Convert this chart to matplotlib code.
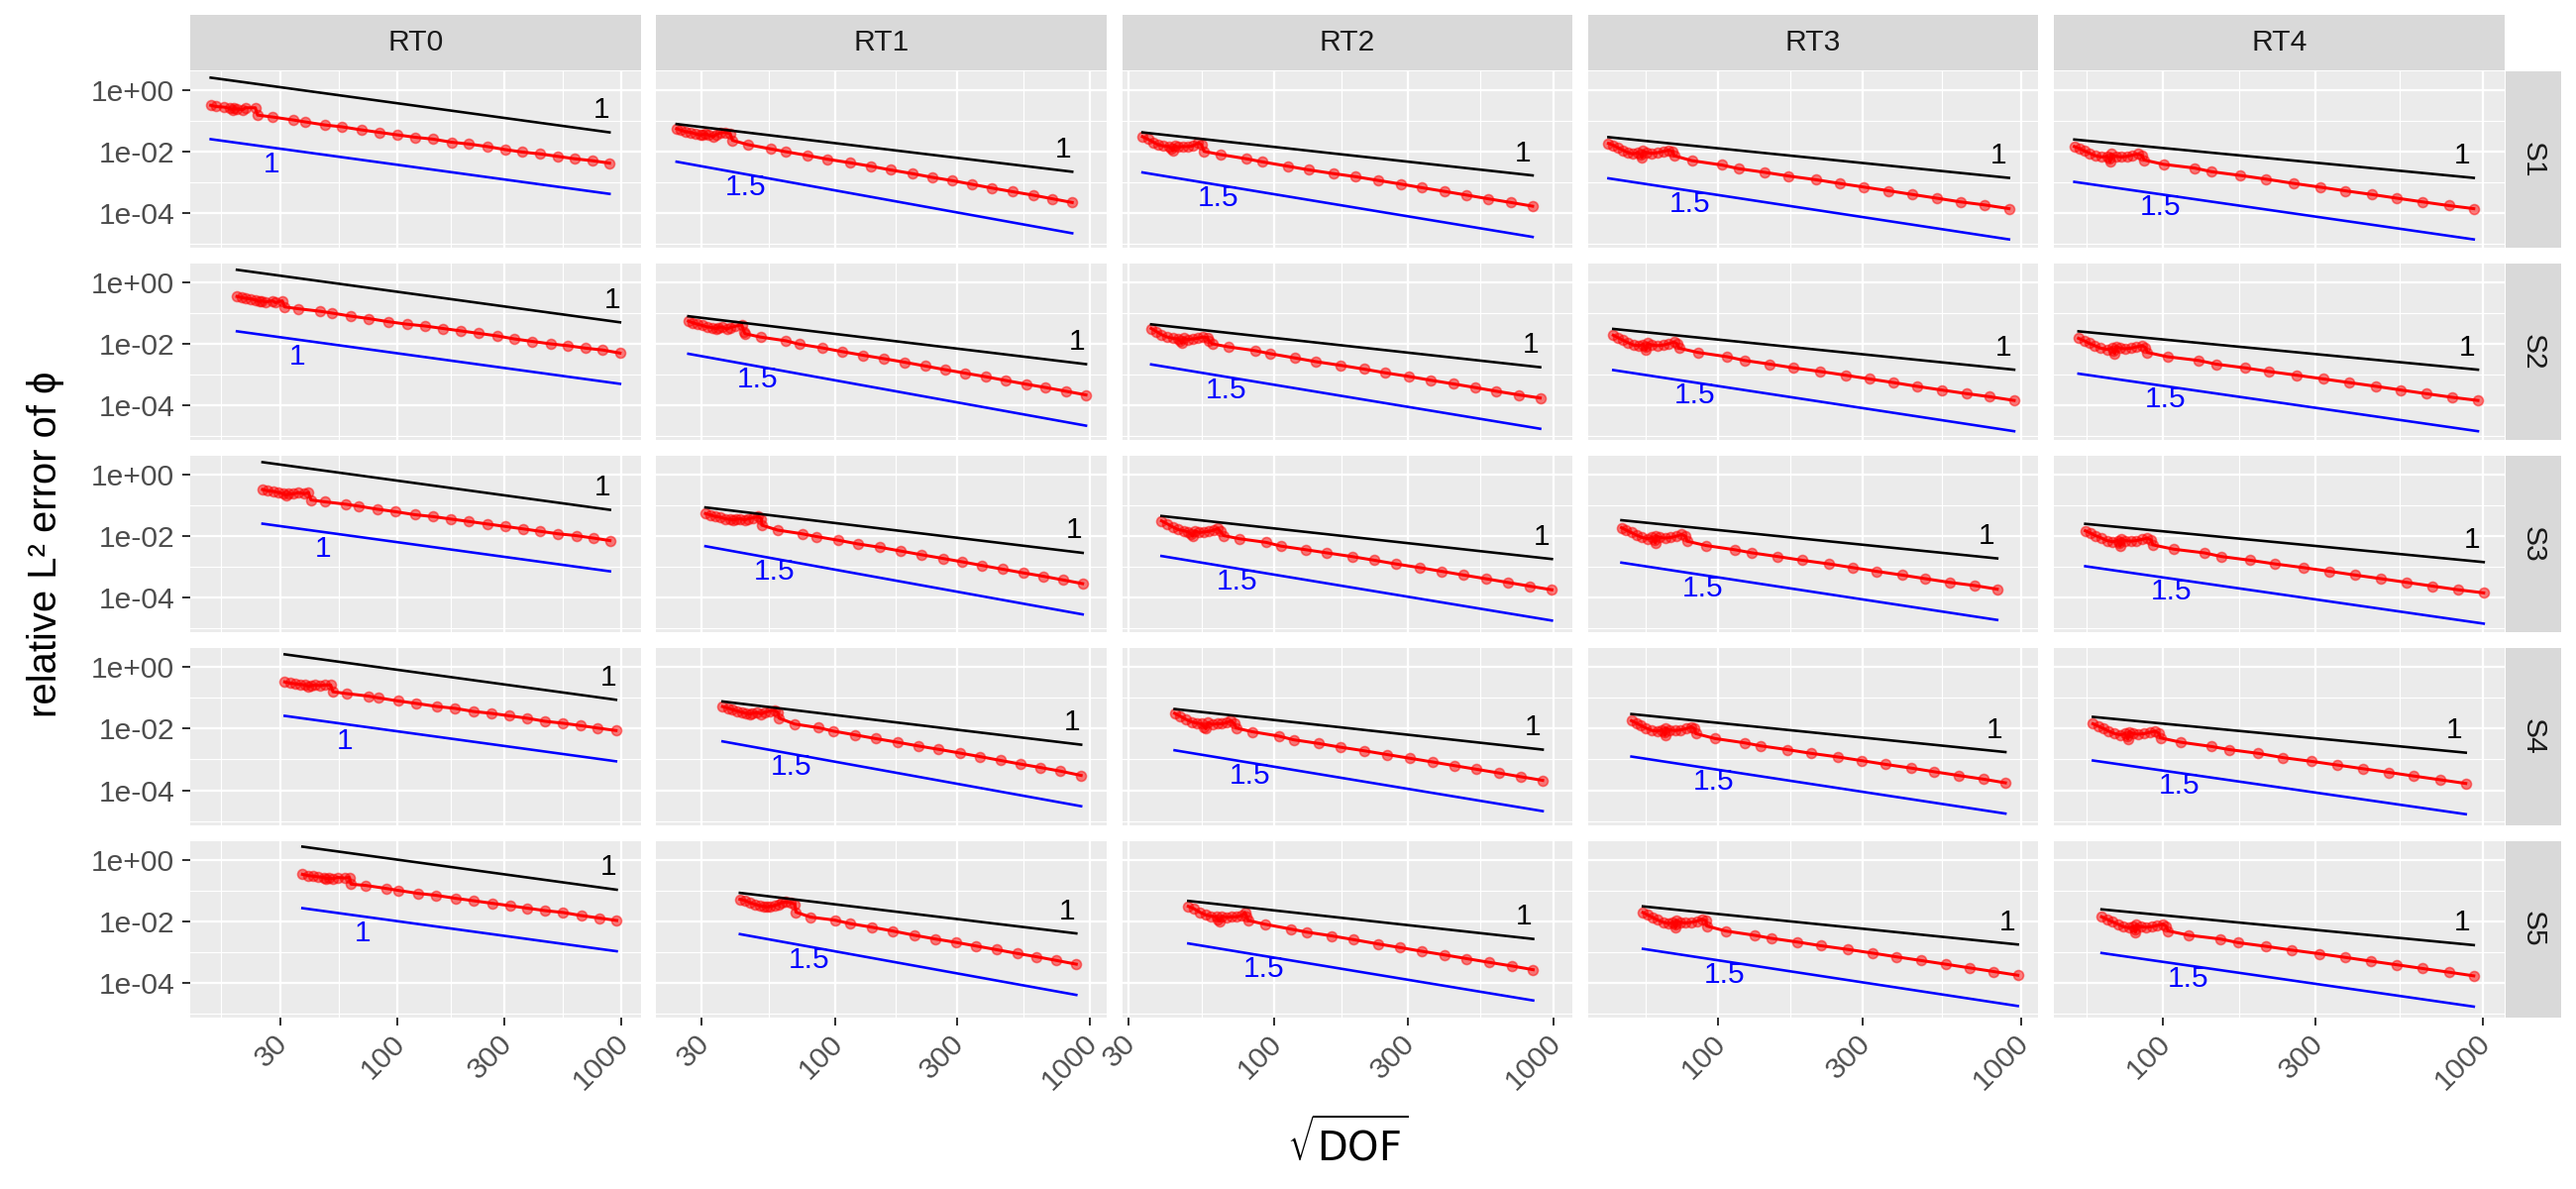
import numpy as np
import matplotlib
matplotlib.use("Agg")
import matplotlib.pyplot as plt
from matplotlib.ticker import FixedLocator, FixedFormatter, NullFormatter
from matplotlib.transforms import ScaledTranslation

plt.rcParams['font.family'] = ['Liberation Sans', 'DejaVu Sans']
plt.rcParams['mathtext.fontset'] = 'dejavusans'

# ---------------- data ----------------
methods = ['RT0', 'RT1', 'RT2', 'RT3', 'RT4']
schemes = ['S1', 'S2', 'S3', 'S4', 'S5']
rates = [1, 1.5, 1.5, 1.5, 1.5]
x_breaks = [30, 100, 300, 1000]
x_tick_labels = ['30', '100', '300', '1000']
y_breaks = [1e0, 1e-2, 1e-4]
y_tick_labels = ['1e+00', '1e-02', '1e-04']

# log10(sqrt(DOF)) and log10(relative L2 error)
LX_RT0_S1 = [1.168,1.191,1.228,1.253,1.265,1.272,1.283,1.311,1.323,1.367,1.377,1.443,1.538,1.589,1.677,1.753,1.840,1.919,1.998,2.080,2.159,2.241,2.320,2.400,2.481,2.557,2.636,2.714,2.792,2.868,2.946]
LY_RT0_S1 = [-0.50,-0.54,-0.56,-0.60,-0.64,-0.60,-0.62,-0.64,-0.58,-0.58,-0.82,-0.88,-0.98,-1.04,-1.14,-1.20,-1.30,-1.38,-1.46,-1.54,-1.60,-1.70,-1.76,-1.84,-1.94,-2.02,-2.08,-2.16,-2.24,-2.30,-2.38]
LX_RT0_S2 = [1.285,1.308,1.326,1.348,1.369,1.384,1.396,1.413,1.443,1.457,1.487,1.498,1.560,1.655,1.709,1.794,1.874,1.960,2.042,2.123,2.203,2.284,2.364,2.444,2.522,2.602,2.683,2.760,2.839,2.915,2.993]
LY_RT0_S2 = [-0.46,-0.50,-0.52,-0.54,-0.58,-0.62,-0.60,-0.64,-0.60,-0.66,-0.60,-0.80,-0.86,-0.94,-1.00,-1.10,-1.18,-1.28,-1.36,-1.42,-1.50,-1.58,-1.66,-1.74,-1.84,-1.92,-2.00,-2.06,-2.14,-2.20,-2.30]
LX_RT0_S3 = [1.399,1.421,1.446,1.472,1.494,1.504,1.516,1.538,1.560,1.586,1.604,1.615,1.677,1.772,1.827,1.911,1.991,2.079,2.159,2.239,2.320,2.400,2.481,2.561,2.638,2.717,2.798,2.875,2.948]
LY_RT0_S3 = [-0.48,-0.52,-0.54,-0.58,-0.62,-0.66,-0.62,-0.62,-0.58,-0.62,-0.58,-0.82,-0.88,-0.96,-1.02,-1.12,-1.20,-1.30,-1.36,-1.44,-1.52,-1.60,-1.68,-1.76,-1.84,-1.92,-1.98,-2.06,-2.14]
LX_RT0_S4 = [1.498,1.523,1.545,1.567,1.589,1.604,1.615,1.633,1.655,1.677,1.703,1.713,1.776,1.870,1.918,2.006,2.086,2.178,2.258,2.339,2.418,2.498,2.579,2.659,2.736,2.817,2.894,2.975]
LY_RT0_S4 = [-0.48,-0.52,-0.54,-0.56,-0.58,-0.62,-0.60,-0.58,-0.60,-0.58,-0.58,-0.80,-0.86,-0.94,-1.00,-1.10,-1.18,-1.28,-1.34,-1.44,-1.50,-1.58,-1.66,-1.76,-1.82,-1.90,-1.98,-2.06]
LX_RT0_S5 = [1.577,1.603,1.625,1.647,1.672,1.684,1.694,1.713,1.735,1.764,1.786,1.794,1.859,1.952,2.003,2.093,2.171,2.261,2.342,2.422,2.502,2.580,2.660,2.739,2.820,2.900,2.978]
LY_RT0_S5 = [-0.48,-0.52,-0.54,-0.56,-0.58,-0.62,-0.60,-0.62,-0.58,-0.60,-0.58,-0.80,-0.84,-0.94,-1.00,-1.10,-1.16,-1.26,-1.34,-1.42,-1.50,-1.58,-1.66,-1.72,-1.82,-1.90,-1.98]

LX_RT1_S1 = [1.379,1.396,1.415,1.434,1.454,1.473,1.482,1.492,1.505,1.524,1.533,1.550,1.569,1.589,1.598,1.659,1.749,1.807,1.891,1.968,2.060,2.139,2.216,2.302,2.379,2.460,2.537,2.614,2.697,2.775,2.852,2.929]
LY_RT1_S1 = [-1.26,-1.31,-1.36,-1.38,-1.43,-1.47,-1.45,-1.43,-1.47,-1.52,-1.45,-1.40,-1.38,-1.43,-1.64,-1.78,-1.92,-2.01,-2.13,-2.25,-2.37,-2.48,-2.60,-2.72,-2.84,-2.95,-3.07,-3.19,-3.31,-3.42,-3.54,-3.66]
LX_RT1_S2 = [1.425,1.441,1.460,1.479,1.499,1.518,1.533,1.544,1.557,1.576,1.589,1.608,1.634,1.644,1.647,1.708,1.807,1.859,1.949,2.026,2.109,2.190,2.274,2.353,2.431,2.508,2.591,2.668,2.748,2.825,2.904,2.983]
LY_RT1_S2 = [-1.26,-1.31,-1.36,-1.40,-1.45,-1.47,-1.50,-1.47,-1.45,-1.52,-1.47,-1.43,-1.38,-1.62,-1.67,-1.78,-1.90,-2.01,-2.13,-2.25,-2.37,-2.48,-2.60,-2.72,-2.84,-2.95,-3.07,-3.19,-3.31,-3.42,-3.54,-3.66]
LX_RT1_S3 = [1.492,1.512,1.531,1.550,1.569,1.589,1.602,1.611,1.627,1.647,1.659,1.679,1.698,1.711,1.713,1.775,1.871,1.927,2.013,2.090,2.177,2.257,2.338,2.422,2.497,2.576,2.656,2.737,2.816,2.893,2.970]
LY_RT1_S3 = [-1.26,-1.31,-1.36,-1.38,-1.43,-1.45,-1.47,-1.45,-1.43,-1.47,-1.43,-1.40,-1.36,-1.43,-1.64,-1.80,-1.92,-2.01,-2.13,-2.25,-2.36,-2.48,-2.60,-2.72,-2.83,-2.95,-3.07,-3.19,-3.30,-3.42,-3.54]
LX_RT1_S4 = [1.559,1.580,1.598,1.618,1.636,1.653,1.666,1.675,1.692,1.711,1.724,1.743,1.762,1.775,1.781,1.842,1.936,1.994,2.077,2.158,2.244,2.325,2.405,2.488,2.569,2.647,2.726,2.803,2.883,2.964]
LY_RT1_S4 = [-1.28,-1.33,-1.38,-1.43,-1.47,-1.50,-1.52,-1.50,-1.47,-1.52,-1.47,-1.43,-1.40,-1.47,-1.66,-1.85,-1.97,-2.08,-2.20,-2.32,-2.44,-2.56,-2.67,-2.79,-2.91,-3.03,-3.15,-3.26,-3.38,-3.52]
LX_RT1_S5 = [1.627,1.647,1.666,1.685,1.704,1.721,1.734,1.743,1.762,1.778,1.790,1.807,1.826,1.842,1.847,1.904,2.000,2.058,2.145,2.225,2.311,2.392,2.473,2.553,2.634,2.713,2.790,2.868,2.945]
LY_RT1_S5 = [-1.29,-1.33,-1.40,-1.45,-1.50,-1.52,-1.54,-1.52,-1.50,-1.45,-1.40,-1.38,-1.40,-1.45,-1.71,-1.87,-1.97,-2.08,-2.20,-2.32,-2.46,-2.58,-2.69,-2.81,-2.93,-3.05,-3.16,-3.28,-3.40]

LX_RT2_S1 = [1.527,1.546,1.566,1.583,1.601,1.621,1.630,1.636,1.642,1.654,1.671,1.691,1.707,1.727,1.738,1.748,1.806,1.900,1.957,2.047,2.123,2.211,2.290,2.370,2.452,2.529,2.610,2.689,2.766,2.847,2.925]
LY_RT2_S1 = [-1.52,-1.60,-1.70,-1.78,-1.82,-1.84,-1.90,-1.98,-1.80,-1.86,-1.84,-1.84,-1.82,-1.72,-1.78,-2.00,-2.10,-2.24,-2.34,-2.48,-2.60,-2.72,-2.82,-2.94,-3.06,-3.18,-3.30,-3.42,-3.54,-3.66,-3.78]
LX_RT2_S2 = [1.558,1.577,1.595,1.616,1.636,1.654,1.663,1.668,1.675,1.689,1.707,1.724,1.742,1.759,1.765,1.777,1.836,1.930,1.985,2.074,2.149,2.238,2.320,2.396,2.481,2.558,2.640,2.719,2.795,2.877,2.952]
LY_RT2_S2 = [-1.50,-1.60,-1.70,-1.78,-1.82,-1.84,-1.90,-1.98,-1.80,-1.86,-1.84,-1.82,-1.78,-1.80,-1.90,-2.00,-2.10,-2.22,-2.32,-2.46,-2.58,-2.70,-2.82,-2.94,-3.06,-3.18,-3.30,-3.42,-3.54,-3.66,-3.76]
LX_RT2_S3 = [1.595,1.616,1.636,1.654,1.675,1.691,1.701,1.707,1.715,1.730,1.748,1.765,1.783,1.797,1.806,1.818,1.874,1.971,2.023,2.114,2.188,2.278,2.358,2.435,2.520,2.599,2.677,2.757,2.835,2.913,2.994]
LY_RT2_S3 = [-1.50,-1.60,-1.70,-1.78,-1.82,-1.86,-1.94,-2.00,-1.82,-1.88,-1.86,-1.84,-1.80,-1.74,-1.84,-1.98,-2.08,-2.20,-2.32,-2.44,-2.54,-2.66,-2.78,-2.90,-3.02,-3.14,-3.26,-3.38,-3.50,-3.62,-3.74]
LX_RT2_S4 = [1.642,1.663,1.683,1.703,1.722,1.738,1.748,1.754,1.762,1.777,1.795,1.812,1.830,1.844,1.856,1.863,1.921,2.015,2.068,2.158,2.235,2.323,2.403,2.484,2.565,2.644,2.724,2.804,2.881,2.961]
LY_RT2_S4 = [-1.50,-1.60,-1.70,-1.78,-1.82,-1.84,-1.94,-2.00,-1.80,-1.86,-1.84,-1.84,-1.80,-1.74,-1.84,-1.98,-2.10,-2.24,-2.36,-2.48,-2.60,-2.72,-2.84,-2.96,-3.08,-3.20,-3.32,-3.44,-3.56,-3.68]
LX_RT2_S5 = [1.691,1.712,1.734,1.754,1.773,1.792,1.797,1.804,1.812,1.830,1.847,1.865,1.883,1.894,1.900,1.906,1.965,2.059,2.117,2.205,2.282,2.370,2.450,2.528,2.610,2.689,2.769,2.851,2.927]
LY_RT2_S5 = [-1.52,-1.60,-1.72,-1.80,-1.84,-1.86,-1.96,-2.00,-1.84,-1.88,-1.86,-1.86,-1.82,-1.72,-1.86,-1.98,-2.10,-2.26,-2.36,-2.48,-2.60,-2.74,-2.86,-2.98,-3.10,-3.22,-3.34,-3.46,-3.58]

LX_RT3_S1 = [1.637,1.653,1.669,1.685,1.702,1.718,1.734,1.745,1.748,1.751,1.764,1.781,1.799,1.818,1.837,1.850,1.854,1.913,2.011,2.067,2.154,2.233,2.323,2.401,2.482,2.564,2.642,2.722,2.800,2.881,2.961]
LY_RT3_S1 = [-1.74,-1.80,-1.88,-1.96,-2.04,-2.08,-2.04,-2.10,-2.20,-1.98,-2.04,-2.06,-2.04,-2.00,-1.96,-2.00,-2.14,-2.30,-2.44,-2.56,-2.68,-2.80,-2.92,-3.04,-3.16,-3.28,-3.40,-3.52,-3.64,-3.74,-3.86]
LX_RT3_S2 = [1.653,1.669,1.685,1.702,1.720,1.738,1.751,1.759,1.761,1.767,1.781,1.799,1.818,1.835,1.854,1.864,1.870,1.933,2.030,2.087,2.171,2.249,2.338,2.421,2.499,2.580,2.656,2.738,2.822,2.898,2.978]
LY_RT3_S2 = [-1.72,-1.80,-1.88,-1.96,-2.04,-2.06,-2.02,-2.10,-2.20,-1.98,-2.04,-2.06,-2.04,-2.00,-1.94,-2.00,-2.14,-2.28,-2.42,-2.54,-2.66,-2.78,-2.90,-3.02,-3.14,-3.26,-3.38,-3.50,-3.62,-3.72,-3.84]
LX_RT3_S3 = [1.680,1.696,1.713,1.729,1.748,1.767,1.781,1.789,1.792,1.794,1.807,1.824,1.843,1.861,1.879,1.892,1.897,1.959,2.056,2.112,2.197,2.277,2.367,2.445,2.523,2.607,2.685,2.765,2.846,2.922]
LY_RT3_S3 = [-1.72,-1.80,-1.88,-1.96,-2.04,-2.08,-2.04,-2.12,-2.22,-1.98,-2.04,-2.06,-2.04,-2.00,-1.94,-2.00,-2.16,-2.30,-2.44,-2.54,-2.66,-2.78,-2.90,-3.02,-3.14,-3.26,-3.38,-3.50,-3.60,-3.72]
LX_RT3_S4 = [1.713,1.729,1.745,1.761,1.781,1.799,1.813,1.821,1.824,1.826,1.839,1.857,1.875,1.894,1.911,1.922,1.926,1.989,2.087,2.141,2.228,2.306,2.396,2.475,2.553,2.637,2.714,2.794,2.876,2.949]
LY_RT3_S4 = [-1.74,-1.82,-1.90,-1.98,-2.06,-2.08,-2.04,-2.12,-2.22,-1.98,-2.04,-2.06,-2.04,-2.00,-1.94,-2.00,-2.16,-2.32,-2.46,-2.56,-2.68,-2.80,-2.92,-3.04,-3.16,-3.28,-3.40,-3.52,-3.64,-3.76]
LX_RT3_S5 = [1.751,1.767,1.783,1.799,1.818,1.837,1.850,1.857,1.859,1.861,1.875,1.892,1.911,1.930,1.946,1.959,1.962,2.024,2.119,2.176,2.262,2.339,2.428,2.510,2.588,2.670,2.751,2.830,2.911,2.990]
LY_RT3_S5 = [-1.72,-1.80,-1.88,-1.96,-2.04,-2.08,-2.04,-2.12,-2.22,-1.98,-2.04,-2.06,-2.04,-2.00,-1.94,-1.98,-2.16,-2.32,-2.46,-2.56,-2.68,-2.80,-2.92,-3.04,-3.16,-3.28,-3.40,-3.52,-3.64,-3.76]

LX_RT4_S1 = [1.724,1.739,1.755,1.772,1.790,1.809,1.826,1.833,1.836,1.839,1.854,1.870,1.888,1.905,1.923,1.936,1.942,2.003,2.099,2.153,2.242,2.322,2.409,2.491,2.570,2.653,2.731,2.811,2.893,2.971]
LY_RT4_S1 = [-1.84,-1.90,-1.98,-2.06,-2.14,-2.18,-2.16,-2.24,-2.34,-2.08,-2.16,-2.18,-2.16,-2.12,-2.08,-2.14,-2.28,-2.42,-2.54,-2.66,-2.78,-2.90,-3.04,-3.16,-3.28,-3.40,-3.52,-3.64,-3.76,-3.86]
LX_RT4_S2 = [1.737,1.755,1.770,1.788,1.806,1.826,1.842,1.847,1.850,1.854,1.867,1.882,1.901,1.918,1.936,1.946,1.952,2.015,2.112,2.167,2.256,2.332,2.419,2.501,2.583,2.665,2.743,2.823,2.905,2.984]
LY_RT4_S2 = [-1.82,-1.90,-1.98,-2.06,-2.14,-2.18,-2.14,-2.22,-2.32,-2.08,-2.14,-2.16,-2.14,-2.10,-2.06,-2.12,-2.28,-2.42,-2.54,-2.66,-2.78,-2.90,-3.02,-3.14,-3.26,-3.38,-3.50,-3.62,-3.74,-3.84]
LX_RT4_S3 = [1.758,1.775,1.790,1.809,1.826,1.844,1.860,1.864,1.867,1.870,1.884,1.901,1.918,1.936,1.952,1.964,1.969,2.034,2.130,2.184,2.273,2.351,2.440,2.521,2.600,2.682,2.762,2.842,2.923,3.002]
LY_RT4_S3 = [-1.82,-1.90,-1.98,-2.06,-2.14,-2.18,-2.14,-2.22,-2.32,-2.08,-2.14,-2.16,-2.14,-2.10,-2.06,-2.12,-2.28,-2.42,-2.54,-2.66,-2.78,-2.90,-3.02,-3.14,-3.26,-3.38,-3.50,-3.62,-3.74,-3.84]
LX_RT4_S4 = [1.782,1.799,1.816,1.831,1.850,1.867,1.882,1.888,1.891,1.895,1.908,1.923,1.942,1.959,1.976,1.987,1.993,2.056,2.153,2.208,2.297,2.375,2.463,2.544,2.624,2.706,2.784,2.866,2.946]
LY_RT4_S4 = [-1.84,-1.92,-2.00,-2.08,-2.16,-2.20,-2.16,-2.24,-2.34,-2.10,-2.16,-2.18,-2.16,-2.12,-2.08,-2.14,-2.30,-2.44,-2.58,-2.68,-2.80,-2.94,-3.06,-3.18,-3.30,-3.42,-3.54,-3.66,-3.78]
LX_RT4_S5 = [1.809,1.826,1.842,1.860,1.877,1.895,1.908,1.913,1.915,1.918,1.931,1.949,1.966,1.983,2.000,2.010,2.017,2.082,2.179,2.235,2.322,2.401,2.489,2.570,2.649,2.731,2.811,2.893,2.971]
LY_RT4_S5 = [-1.86,-1.94,-2.02,-2.10,-2.18,-2.22,-2.18,-2.26,-2.36,-2.12,-2.18,-2.20,-2.18,-2.14,-2.10,-2.16,-2.32,-2.46,-2.58,-2.70,-2.82,-2.94,-3.06,-3.18,-3.30,-3.42,-3.54,-3.66,-3.78]

panel_data = {(m, s): (globals()['LX_%s_%s' % (m, s)], globals()['LY_%s_%s' % (m, s)])
              for m in methods for s in schemes}

# ---------------- layout (pixels) ----------------
W, H, DPI = 2600, 1200, 200
PT = 72.0 / DPI          # points per pixel
fig = plt.figure(figsize=(W / DPI, H / DPI), dpi=DPI)
fig.patch.set_facecolor('white')

col_left0, col_pitch, panel_w = 192.0, 470.25, 454.5
row_top0, row_pitch, panel_h = 71.7, 194.2, 178.3
strip_top, strip_h = 15.0, 55.7
rstrip_left, rstrip_w = 2529.0, 56.0

def px_axes(left, top, w, h):
    return fig.add_axes([left / W, 1 - (top + h) / H, w / W, h / H])

def minor_from_major(b, lo, hi):
    b = [v for v in b if lo <= v <= hi]
    bd = b[1] - b[0]
    if lo < b[0]:
        b = [b[0] - bd] + b
    if hi > b[-1]:
        b = b + [b[-1] + bd]
    return [(a + c) / 2 for a, c in zip(b[:-1], b[1:])]

ylo, yhi = -5.13, 0.613
ylog_major = list(np.log10(y_breaks))[::-1]
y_minor = [10 ** v for v in minor_from_major(sorted(ylog_major), ylo, yhi)]

tick_fs = 10.8
title_fs = 14.4
lab_fs = 10.8
xlab_shift = ScaledTranslation(13 / DPI, 0, fig.dpi_scale_trans)

for j, m in enumerate(methods):
    lx_all = np.concatenate([np.asarray(panel_data[(m, s)][0]) for s in schemes])
    lo, hi = lx_all.min(), lx_all.max()
    pad = 0.05 * (hi - lo)
    xlo, xhi = lo - pad, hi + pad
    x_minor = [10 ** v for v in minor_from_major(list(np.log10(x_breaks)), xlo, xhi)]
    left = col_left0 + j * col_pitch

    # top strip
    sax = px_axes(left, strip_top, panel_w, strip_h)
    sax.set_facecolor('#D9D9D9')
    sax.set_xticks([]); sax.set_yticks([])
    for sp in sax.spines.values():
        sp.set_visible(False)
    sax.text(0.5, 0.5, m, ha='center', va='center', fontsize=tick_fs,
             color='#1A1A1A', transform=sax.transAxes)

    for i, s in enumerate(schemes):
        top = row_top0 + i * row_pitch
        ax = px_axes(left, top, panel_w, panel_h)
        ax.set_facecolor('#EBEBEB')
        for sp in ax.spines.values():
            sp.set_visible(False)
        ax.set_xscale('log'); ax.set_yscale('log')
        ax.set_xlim(10 ** xlo, 10 ** xhi)
        ax.set_ylim(10 ** ylo, 10 ** yhi)
        ax.xaxis.set_major_locator(FixedLocator(x_breaks))
        ax.xaxis.set_minor_locator(FixedLocator(x_minor))
        ax.yaxis.set_major_locator(FixedLocator(y_breaks))
        ax.yaxis.set_minor_locator(FixedLocator(y_minor))
        ax.xaxis.set_minor_formatter(NullFormatter())
        ax.yaxis.set_minor_formatter(NullFormatter())
        ax.set_axisbelow(True)
        ax.grid(which='major', color='white', lw=2.3 * PT)
        ax.grid(which='minor', color='white', lw=1.15 * PT)
        ax.tick_params(which='minor', length=0)
        ax.tick_params(which='major', color='#333333', width=2.0 * PT,
                       length=8 * PT, labelsize=tick_fs, labelcolor='#4D4D4D')

        if i == len(schemes) - 1:
            ax.xaxis.set_major_formatter(FixedFormatter(x_tick_labels))
            ax.tick_params(axis='x', pad=4 * PT, labelrotation=45)
            for lbl in ax.get_xticklabels():
                lbl.set_ha('right'); lbl.set_va('top')
                lbl.set_transform(lbl.get_transform() + xlab_shift)
        else:
            ax.xaxis.set_major_formatter(NullFormatter())
            ax.tick_params(axis='x', length=0)
        if j == 0:
            ax.yaxis.set_major_formatter(FixedFormatter(y_tick_labels))
            ax.tick_params(axis='y', pad=8 * PT)
        else:
            ax.yaxis.set_major_formatter(NullFormatter())
            ax.tick_params(axis='y', length=0)

        lx = np.asarray(panel_data[(m, s)][0])
        ly = np.asarray(panel_data[(m, s)][1])
        x = 10 ** lx
        y = 10 ** ly
        ax.plot(x, y, 'o', ms=10.0 * PT, color='#FF0000', mfc='#FF0000',
                mec='#FF0000', mew=1.6 * PT, alpha=0.5, zorder=3)
        ax.plot(x, y, '-', color='#FF0000', lw=3.0 * PT, zorder=4)

        # reference slopes anchored one decade above / below the last point
        r = rates[j]
        xs = np.array([x[0], x[-1]])
        yblack = y[-1] * 10 * (xs / x[-1]) ** (-1.0)
        yblue = y[-1] / 10 * (xs / x[-1]) ** (-r)
        ax.plot(xs, yblack, color='black', lw=2.6 * PT, zorder=5)
        ax.plot(xs, yblue, color='#0000FF', lw=2.6 * PT, zorder=5)

        xb = x[-1] / 10 ** 0.035
        yb = y[-1] * 10 * (xb / x[-1]) ** (-1.0) * 10 ** 0.69
        ax.text(xb, yb, '1', ha='center', va='center', fontsize=lab_fs,
                color='black', zorder=6)
        xl = x[0] * 10 ** 0.27
        yl = y[-1] / 10 * (xl / x[-1]) ** (-r) / 10 ** (0.55 if r == 1 else 0.43)
        ax.text(xl, yl, '%g' % r, ha='center', va='center', fontsize=lab_fs,
                color='#0000FF', zorder=6)

        if j == len(methods) - 1:
            rax = px_axes(rstrip_left, top, rstrip_w, panel_h)
            rax.set_facecolor('#D9D9D9')
            rax.set_xticks([]); rax.set_yticks([])
            for sp in rax.spines.values():
                sp.set_visible(False)
            rax.text(0.5, 0.5, s, ha='center', va='center', rotation=-90,
                     fontsize=tick_fs, color='#1A1A1A', transform=rax.transAxes)

# axis titles
fig.text(46 / W, 1 - 549 / H, 'relative L\u00b2 error of \u03d5', rotation=90,
         ha='center', va='center', fontsize=title_fs, color='black')
fig.text(1360 / W, 1 - 1154 / H, r'$\sqrt{\mathrm{DOF}}$', ha='center',
         va='center', fontsize=title_fs, color='black')

fig.savefig('out.png', dpi=DPI, facecolor='white')
